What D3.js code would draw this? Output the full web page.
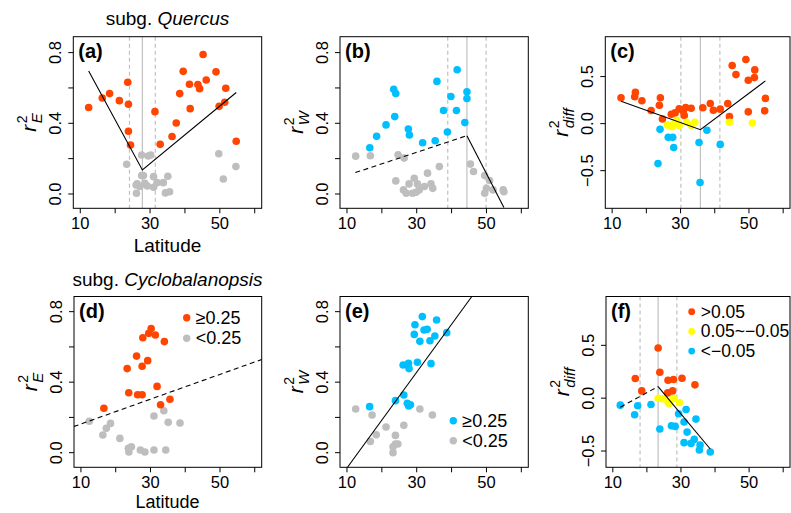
<!DOCTYPE html>
<html><head><meta charset="utf-8">
<script src="https://cdn.jsdelivr.net/npm/d3@7"></script>
<style>body{margin:0;background:#fff}svg{display:block;font-family:"Liberation Sans",Arial,sans-serif}</style>
</head><body><svg id="chart" width="791" height="513"></svg>
<script>
// ---------- tick data ----------
const latTicks = [10, 20, 30, 40, 50, 60];
const latLabels = [10, 30, 50];
const r2Ticks = [0, 0.2, 0.4, 0.6, 0.8];
const r2Labels = [0, 0.4, 0.8];
const diffTicks = [-0.5, 0, 0.5];
const diffLabels = [-0.5, 0, 0.5];

// ---------- panel (a) subg. Quercus r2_E ----------
const aHigh = [[12.4,0.489],[16.3,0.543],[18.4,0.568],[21.2,0.528],[23.6,0.632],[23.8,0.508],[23.8,0.355],[24.4,0.277],
  [31.4,0.466],[32.9,0.281],[36.3,0.325],[37.5,0.402],[38.5,0.568],[39.5,0.694],[41.3,0.621],[41.5,0.483],[43.7,0.619],
  [44.2,0.596],[45.2,0.789],[46.1,0.645],[48.9,0.691],[49.8,0.496],[51.4,0.519],[51.7,0.598],[54.7,0.298]];
const aLow = [[23.3,0.168],[27.6,0.221],[29.5,0.215],[30.2,0.221],[27.6,0.104],[28.1,0.104],[26.3,0.057],[26.0,0.051],
  [29.2,0.045],[31.0,0.098],[32.0,0.064],[31.0,0.038],[33.8,0.064],[35.1,0.100],[34.4,0.006],[35.6,0.013],[26.1,0.004],
  [27.1,0.042],[28.5,0.060],[49.7,0.228],[51.0,0.085],[54.6,0.155]];
const aFit = [[12.4,0.696],[27.8,0.136],[54.7,0.574]];
const aBreak = [27.8], aBreakCI = [24.1, 31.5];

// ---------- panel (b) subg. Quercus r2_W ----------
const bHigh = [[16.55,0.262],[18.5,0.326],[21.2,0.391],[23.4,0.593],[24.0,0.569],[23.7,0.438],[27.6,0.368],[27.9,0.334],
  [31.7,0.290],[35.3,0.301],[35.8,0.637],[37.7,0.472],[38.8,0.351],[39.8,0.552],[41.4,0.472],[41.6,0.703],[43.8,0.404],
  [44.4,0.578],[44.4,0.540]];
const bLow = [[12.5,0.214],[16.7,0.216],[24.65,0.222],[26.4,0.203],[24.0,0.074],[26.2,0.023],[27.8,0.057],[29.3,0.089],
  [30.2,0.057],[28.8,0.004],[30.7,0.023],[32.2,0.042],[33.1,0.118],[34.1,0.057],[34.6,0.032],[36.5,0.155],[45.4,0.169],
  [46.3,0.127],[49.5,0.104],[50.9,0.076],[50.0,0.032],[49.5,0.004],[51.9,0.023],[54.8,0.023],[55.0,0.013],[27.0,0.004],[29.8,0.010]];
const bFitDash = [[12.4,0.121],[44.4,0.330]];
const bFitSolid = [[44.4,0.330],[55.0,-0.076]];
const bBreak = [44.4], bBreakCI = [38.9, 49.9];

// ---------- panel (c) subg. Quercus r2_diff ----------
const cPos = [[12.6,0.275],[16.8,0.332],[16.6,0.286],[18.7,0.243],[21.4,0.139],[23.8,0.196],[24.1,0.275],[24.7,0.05],
  [27.3,0.1],[28.4,0.114],[29.6,0.157],[30.8,0.129],[31.5,0.171],[31.1,0.086],[33.1,0.164],[36.5,0.168],[38.7,0.214],
  [39.6,0.143],[41.6,0.154],[43.8,0.214],[44.3,0.075],[45.1,0.618],[46.2,0.521],[49.1,0.682],[49.8,0.461],[51.7,0.571],
  [51.6,0.489],[49.8,0.125],[54.8,0.268],[54.6,0.136]];
const cMid = [[26.2,-0.014],[27.5,-0.032],[28.0,0.0],[28.9,0.036],[29.6,-0.021],[31.8,0.014],[34.2,0.014],[33.1,-0.018],
  [44.3,0.014],[51.0,0.007]];
const cNeg = [[24.0,-0.061],[26.4,-0.146],[27.7,-0.146],[28.0,-0.254],[23.4,-0.425],[35.4,-0.2],[37.7,-0.071],[41.6,-0.221],[35.7,-0.625]];
const cFit = [[12.6,0.239],[35.8,-0.064],[54.8,0.454]];
const cBreak = [35.8], cBreakCI = [30.1, 41.5];

// ---------- panel (d) subg. Cyclobalanopsis r2_E ----------
const dHigh = [[16.6,0.252],[23.3,0.477],[23.75,0.340],[26.0,0.548],[26.3,0.329],[27.6,0.329],[27.6,0.490],[27.8,0.652],
  [29.2,0.522],[29.5,0.677],[30.2,0.704],[31.4,0.668],[31.9,0.376],[32.9,0.272],[34.0,0.630],[35.6,0.303]];
const dLow = [[12.4,0.178],[17.3,0.138],[18.5,0.166],[16.3,0.100],[21.2,0.081],[23.65,0.025],[24.5,0.034],[23.8,0.004],
  [27.1,0.015],[28.4,0.004],[31.0,0.015],[34.4,0.015],[31.0,0.208],[33.85,0.238],[35.1,0.172],[38.5,0.168]];
const dFit = [[7.9,0.148],[62.2,0.530]];

// ---------- panel (e) subg. Cyclobalanopsis r2_W ----------
const eHigh = [[16.5,0.261],[23.9,0.295],[26.3,0.327],[26.1,0.497],[27.65,0.507],[27.8,0.477],[27.3,0.280],[27.7,0.265],
  [28.2,0.272],[30.2,0.513],[29.3,0.671],[29.5,0.726],[30.9,0.632],[31.6,0.772],[32.1,0.696],[33.0,0.700],[33.8,0.635],
  [34.1,0.505],[35.2,0.662],[35.7,0.753],[38.6,0.681]];
const eLow = [[12.5,0.248],[17.2,0.214],[18.4,0.102],[16.7,0.064],[21.2,0.146],[23.9,0.098],[23.2,0.034],[23.9,0.049],
  [24.6,0.049],[23.2,0.0],[26.3,0.155],[30.9,0.248],[34.5,0.214]];
const eFit = [[10.15,-0.083],[45.8,0.886]];

// ---------- panel (f) subg. Cyclobalanopsis r2_diff ----------
const fPos = [[16.6,0.186],[18.5,0.069],[23.3,0.475],[23.8,0.245],[26.2,0.170],[27.8,0.176],[30.3,0.189],[34.1,0.126],
  [26.1,0.050],[27.55,0.069]];
const fMid = [[23.3,0.0],[24.5,-0.006],[26.2,-0.035],[26.6,-0.053],[27.8,-0.003],[29.5,-0.041]];
const fNeg = [[12.2,-0.066],[16.4,-0.157],[17.3,-0.072],[21.2,-0.060],[23.8,-0.292],[27.2,-0.261],[28.3,-0.267],
  [29.3,-0.148],[31.5,-0.107],[30.9,-0.226],[31.8,-0.321],[30.9,-0.421],[32.95,-0.428],[33.9,-0.390],[34.4,-0.198],
  [35.6,-0.443],[35.4,-0.491],[38.6,-0.509]];
const fFitDash = [[12.2,-0.085],[23.3,0.110]];
const fFitSolid = [[23.3,0.110],[38.6,-0.481]];
const fBreak = [23.3], fBreakCI = [18.0, 28.8];

const legendR2 = ["\u22650.25", "<0.25"];
const legendDiff = [">0.05", "0.05~\u22120.05", "<\u22120.05"];

// ---------- style ----------
const ORANGE = "#FF4500", GREY = "#BEBEBE", BLUE = "#00BFFF", YELLOW = "#FFFF00";
const PR = 3.8;

const svg = d3.select("#chart");
svg.append("rect").attr("width",791).attr("height",513).attr("fill","#fff");

const fmt = v => (v < 0 ? "\u2212" : "") + Math.abs(v).toFixed(1);
let clipId = 0;

function panel(o) {
  const x = d3.scaleLinear().domain([8, 62]).range([o.x0, o.x1]);
  const y = d3.scaleLinear().domain(o.yDom).range([o.y1, o.y0]);
  const g = svg.append("g");
  const id = "clip" + (clipId++);
  g.append("clipPath").attr("id", id).append("rect")
    .attr("x", o.x0).attr("y", o.y0).attr("width", o.x1 - o.x0).attr("height", o.y1 - o.y0);
  const pg = g.append("g").attr("clip-path", `url(#${id})`);
  (o.ci || []).forEach(v => pg.append("line").attr("x1", x(v)).attr("x2", x(v)).attr("y1", o.y0).attr("y2", o.y1)
    .attr("stroke", "#C0C0C0").attr("stroke-width", 1.2).attr("stroke-dasharray", "4,3"));
  (o.brk || []).forEach(v => pg.append("line").attr("x1", x(v)).attr("x2", x(v)).attr("y1", o.y0).attr("y2", o.y1)
    .attr("stroke", "#C0C0C0").attr("stroke-width", 1.2));
  o.series.forEach(s => {
    pg.selectAll(null).data(s.pts).enter().append("circle")
      .attr("cx", d => x(d[0])).attr("cy", d => y(d[1])).attr("r", PR).attr("fill", s.color);
  });
  const line = d3.line().x(d => x(d[0])).y(d => y(d[1]));
  (o.fits || []).forEach(f => pg.append("path").attr("d", line(f.pts)).attr("fill", "none")
    .attr("stroke", "#000").attr("stroke-width", 1.1).attr("stroke-dasharray", f.dash ? "5,3.5" : null));
  g.append("rect").attr("x", o.x0).attr("y", o.y0).attr("width", o.x1 - o.x0).attr("height", o.y1 - o.y0)
    .attr("fill", "none").attr("stroke", "#000").attr("stroke-width", 1);
  latTicks.forEach(t => g.append("line").attr("x1", x(t)).attr("x2", x(t)).attr("y1", o.y1).attr("y2", o.y1 + 5)
    .attr("stroke", "#000"));
  latLabels.forEach(t => g.append("text").attr("x", x(t)).attr("y", o.y1 + 20.5).attr("text-anchor", "middle")
    .attr("font-size", 16.5).text(t));
  o.yTicks.forEach(t => g.append("line").attr("x1", o.x0 - 5).attr("x2", o.x0).attr("y1", y(t)).attr("y2", y(t))
    .attr("stroke", "#000"));
  o.yLabels.forEach(t => g.append("text").attr("transform", `translate(${o.x0 - 12},${y(t)}) rotate(-90)`)
    .attr("text-anchor", "middle").attr("font-size", 16.5).text(fmt(t)));
  const lg = g.append("g").attr("transform", `translate(${o.x0 - 37},${(o.y0 + o.y1) / 2}) rotate(-90)`);
  const rT = lg.append("text").attr("font-style", "italic").attr("font-size", 21).text("r");
  const rw = rT.node().getComputedTextLength();
  const sp = lg.append("text").attr("x", rw + 1.5).attr("y", -9).attr("font-size", 14).text("2");
  const sb = lg.append("text").attr("x", rw + 1.5).attr("y", 6).attr("font-size", 15).attr("font-style", "italic").text(o.sub);
  const tot = rw + 1.5 + Math.max(sp.node().getComputedTextLength(), sb.node().getComputedTextLength());
  lg.selectAll("text").attr("dx", -tot / 2);
  g.append("text").attr("x", o.x0 + 5).attr("y", o.y0 + 21).attr("font-size", 20).attr("font-weight", "bold").text(o.letter);
  if (o.legend) {
    o.legend.items.forEach((it, i) => {
      const yy = o.legend.y + i * o.legend.dy;
      g.append("circle").attr("cx", o.legend.x).attr("cy", yy).attr("r", o.legend.r).attr("fill", it[1]);
      g.append("text").attr("x", o.legend.x + 9).attr("y", yy + 6).attr("font-size", o.legend.fs).text(it[0]);
    });
  }
  return {x, y};
}

const top0 = 36.7, top1 = 208.3, bot0 = 296.5, bot1 = 467.3;
const r2DomTop = [-0.081, 0.890], r2DomBot = [-0.083, 0.886];

panel({x0: 73.3, x1: 261.7, y0: top0, y1: top1, yDom: r2DomTop, yTicks: r2Ticks, yLabels: r2Labels, sub: "E", letter: "(a)",
  ci: aBreakCI, brk: aBreak, series: [{pts: aLow, color: GREY}, {pts: aHigh, color: ORANGE}], fits: [{pts: aFit}]});
panel({x0: 340, x1: 528.3, y0: top0, y1: top1, yDom: r2DomTop, yTicks: r2Ticks, yLabels: r2Labels, sub: "W", letter: "(b)",
  ci: bBreakCI, brk: bBreak, series: [{pts: bLow, color: GREY}, {pts: bHigh, color: BLUE}],
  fits: [{pts: bFitDash, dash: true}, {pts: bFitSolid}]});
panel({x0: 605.3, x1: 790, y0: top0, y1: top1, yDom: [-0.90, 0.924], yTicks: diffTicks, yLabels: diffLabels, sub: "diff", letter: "(c)",
  ci: cBreakCI, brk: cBreak, series: [{pts: cPos, color: ORANGE}, {pts: cMid, color: YELLOW}, {pts: cNeg, color: BLUE}], fits: [{pts: cFit}]});
panel({x0: 74, x1: 261.7, y0: bot0, y1: bot1, yDom: r2DomBot, yTicks: r2Ticks, yLabels: r2Labels, sub: "E", letter: "(d)",
  series: [{pts: dLow, color: GREY}, {pts: dHigh, color: ORANGE}], fits: [{pts: dFit, dash: true}],
  legend: {x: 186.7, y: 317.7, dy: 20.6, r: 3.7, fs: 18, items: [[legendR2[0], ORANGE], [legendR2[1], GREY]]}});
panel({x0: 340, x1: 528.3, y0: bot0, y1: bot1, yDom: r2DomBot, yTicks: r2Ticks, yLabels: r2Labels, sub: "W", letter: "(e)",
  series: [{pts: eLow, color: GREY}, {pts: eHigh, color: BLUE}], fits: [{pts: eFit}],
  legend: {x: 453.3, y: 420.7, dy: 20, r: 3.7, fs: 18, items: [[legendR2[0], BLUE], [legendR2[1], GREY]]}});
panel({x0: 606, x1: 790, y0: bot0, y1: bot1, yDom: [-0.654, 0.962], yTicks: diffTicks, yLabels: diffLabels, sub: "diff", letter: "(f)",
  ci: fBreakCI, brk: fBreak, series: [{pts: fPos, color: ORANGE}, {pts: fMid, color: YELLOW}, {pts: fNeg, color: BLUE}],
  fits: [{pts: fFitDash, dash: true}, {pts: fFitSolid}],
  legend: {x: 691.7, y: 311.7, dy: 19.7, r: 3.4, fs: 17.5, items: [[legendDiff[0], ORANGE], [legendDiff[1], YELLOW], [legendDiff[2], BLUE]]}});

function title(cx, yb, pre, it) {
  const t = svg.append("text").attr("x", cx).attr("y", yb).attr("text-anchor", "middle").attr("font-size", 19);
  t.append("tspan").text(pre);
  t.append("tspan").attr("font-style", "italic").text(it);
}
title(167.5, 25, "subg. ", "Quercus");
title(167.5, 286, "subg. ", "Cyclobalanopsis");
svg.append("text").attr("x", 167.5).attr("y", 252).attr("text-anchor", "middle").attr("font-size", 19).text("Latitude");
svg.append("text").attr("x", 167.5).attr("y", 508).attr("text-anchor", "middle").attr("font-size", 18).text("Latitude");
</script></body></html>
